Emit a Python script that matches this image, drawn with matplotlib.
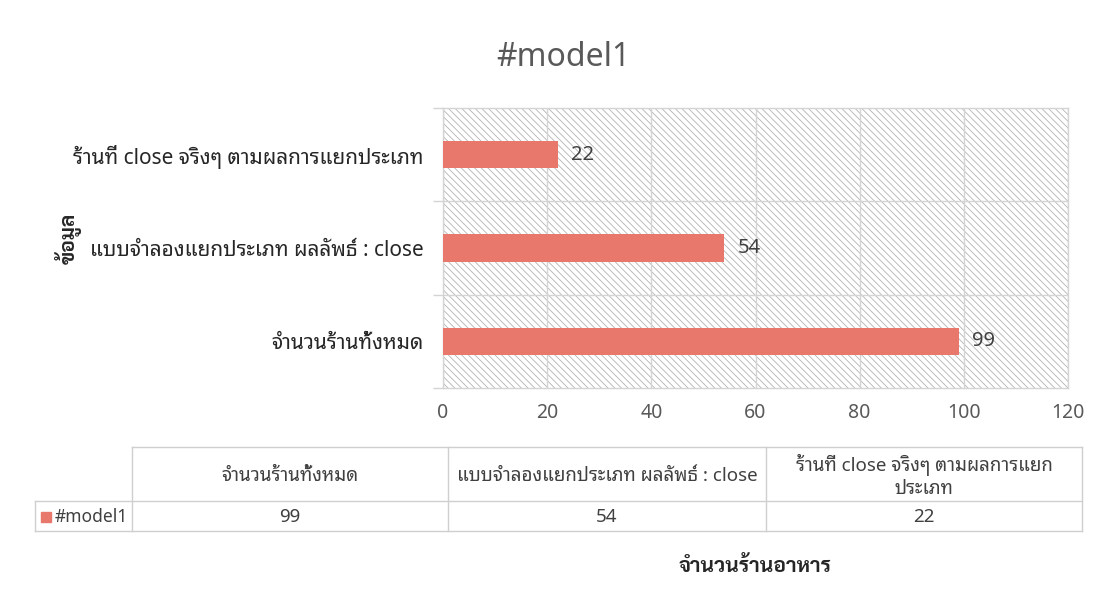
import matplotlib
matplotlib.use('Agg')
import matplotlib.pyplot as plt
from matplotlib.patches import Rectangle
from matplotlib.lines import Line2D

plt.rcParams['font.family'] = ['Noto Sans Thai Looped', 'Noto Sans', 'DejaVu Sans']
plt.rcParams['hatch.linewidth'] = 0.6

series_name = '#model1'
categories = ['จำนวนร้านทั้งหมด', 'แบบจำลองแยกประเภท ผลลัพธ์ : close', 'ร้านที่ close จริงๆ ตามผลการแยกประเภท']
values = [99, 54, 22]
table_headers = ['จำนวนร้านทั้งหมด', 'แบบจำลองแยกประเภท ผลลัพธ์ : close', 'ร้านที่ close จริงๆ ตามผลการแยก\nประเภท']
x_ticks = [0, 20, 40, 60, 80, 100, 120]

bar_color = '#e8786c'
grid_color = '#d4d4d4'
text_color = '#404040'
bold_font = ['Sarabun', 'Noto Sans Thai Looped', 'DejaVu Sans']

W, H = 1110, 605
fig = plt.figure(figsize=(W / 100, H / 100), dpi=100)

def fx(px):
    return px / W

def fy(py):
    return 1 - py / H

ax = fig.add_axes([fx(443), fy(388), fx(1068) - fx(443), fy(108) - fy(388)])
ax.add_patch(Rectangle((0, 0), 1, 1, transform=ax.transAxes, facecolor='white',
                       edgecolor='#b4b4b4', linewidth=0, hatch='\\\\\\\\\\', zorder=0))
ypos = list(range(len(categories)))
bars = ax.barh(ypos, values, height=0.29, color=bar_color, zorder=3)
for y, v in zip(ypos, values):
    ax.text(v + 2.6, y, str(v), va='center', ha='left', fontsize=14.5, color=text_color)

ax.set_xlim(0, 120)
ax.set_ylim(-0.5, 2.5)
ax.set_xticks(x_ticks)
ax.set_xticklabels([str(t) for t in x_ticks], fontsize=14, color='#595959')
ax.tick_params(axis='x', length=0, pad=11)
ax.set_yticks(ypos)
ax.set_yticklabels(categories, fontsize=15, color='#262626')
ax.tick_params(axis='y', which='major', length=0, pad=14)
ax.set_yticks([-0.5, 0.5, 1.5, 2.5], minor=True)
ax.tick_params(axis='y', which='minor', length=7, color=grid_color, width=1)
ax.grid(axis='x', color=grid_color, linewidth=1, zorder=1)
for b in [0.5, 1.5]:
    ax.axhline(b, color=grid_color, linewidth=1, zorder=1)
for s in ax.spines.values():
    s.set_color(grid_color)
    s.set_linewidth(1)
ax.set_axisbelow(True)

fig.text(fx(563), fy(58), series_name, ha='center', va='center', fontsize=23, color='#595959')
fig.text(fx(68), fy(238), 'ข้อมูล', rotation=90, ha='center', va='center',
         fontsize=15, fontweight='bold', color='#262626', family=bold_font)
fig.text(fx(755), fy(566), 'จำนวนร้านอาหาร', ha='center', va='center',
         fontsize=15, fontweight='bold', color='#262626', family=bold_font)

# data table
line_color = '#cfcfcf'
col_x = [132, 448, 766, 1082]
def hline(x0, x1, y):
    fig.add_artist(Line2D([fx(x0), fx(x1)], [fy(y), fy(y)], color=line_color, lw=1))
def vline(x, y0, y1):
    fig.add_artist(Line2D([fx(x), fx(x)], [fy(y0), fy(y1)], color=line_color, lw=1))
hline(132, 1082, 447)
hline(35, 1082, 501)
hline(35, 1082, 531)
vline(35, 501, 531)
for x in col_x:
    vline(x, 447, 531)
for i, (hdr, v) in enumerate(zip(table_headers, values)):
    cx = (col_x[i] + col_x[i + 1]) / 2
    fig.text(fx(cx), fy(476), hdr, ha='center', va='center', fontsize=13.5,
             color=text_color, linespacing=1.3)
    fig.text(fx(cx), fy(517), str(v), ha='center', va='center', fontsize=13.5, color=text_color)
fig.add_artist(Rectangle((fx(41), fy(522)), fx(10), fy(512) - fy(522), color=bar_color))
fig.text(fx(55), fy(517), series_name, ha='left', va='center', fontsize=12.5, color=text_color)

fig.savefig('out.png', dpi=100, facecolor='white')
